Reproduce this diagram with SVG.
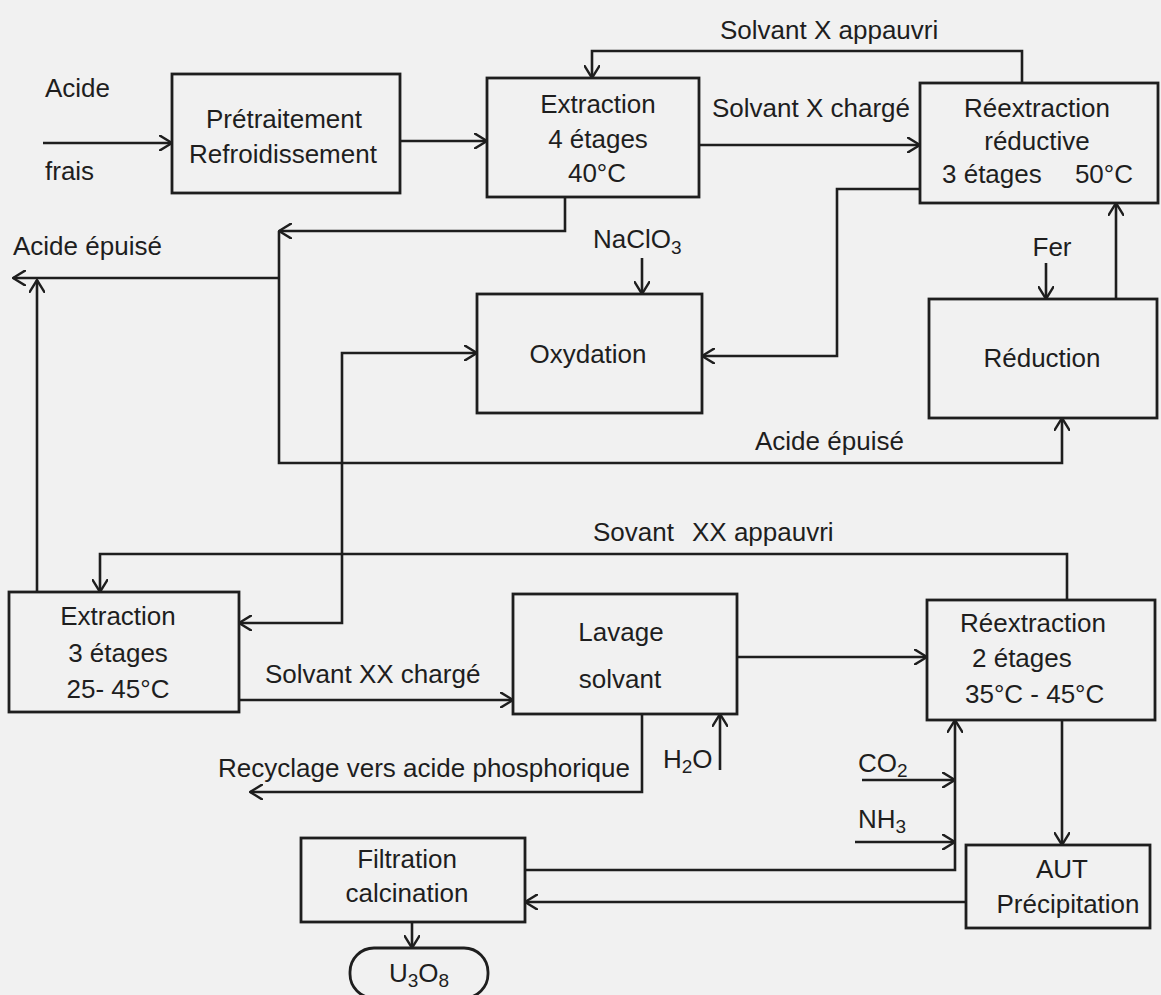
<svg xmlns="http://www.w3.org/2000/svg" width="1161" height="995" viewBox="0 0 1161 995">
<style>
text{font-family:"Liberation Sans",Arial,Helvetica,sans-serif;font-size:26px;fill:#1e1e1e}
.c{text-anchor:middle}
.e{text-anchor:end}
.box{fill:none;stroke:#1e1e1e;stroke-width:2.8}
.ln{fill:none;stroke:#1e1e1e;stroke-width:2.6}
.a{marker-end:url(#ah)}
.sub{font-size:19px}
</style>
<defs>
<marker id="ah" viewBox="0 0 14 16" refX="13" refY="8" markerWidth="14" markerHeight="16" markerUnits="userSpaceOnUse" orient="auto-start-reverse">
<path d="M0,0 L13,8 L0,16" fill="none" stroke="#1e1e1e" stroke-width="2.4"/>
</marker>
</defs>
<rect x="0" y="0" width="1161" height="995" fill="#f1f1f1"/>

<g id="connectors">
<path class="ln a" d="M43,143 H172"/>
<path class="ln a" d="M400,141 H487"/>
<path class="ln a" d="M1022,83 V51 H592 V78"/>
<path class="ln a" d="M699,145 H920"/>
<path class="ln a" d="M565,197 V231 H279"/>
<path class="ln a" d="M279,231 V463 H1062 V418"/>
<path class="ln a" d="M279,278 H13"/>
<path class="ln a" d="M37,592 V280"/>
<path class="ln a" d="M642,258 V294"/>
<path class="ln a" d="M920,189 H837 V356 H702"/>
<path class="ln a" d="M1046,263 V299"/>
<path class="ln a" d="M1116,299 V203"/>
<path class="ln a" d="M239,623 H342 V353 H477" marker-start="url(#ah)"/>
<path class="ln a" d="M1067,600 V554 H100 V592"/>
<path class="ln a" d="M239,700 H513"/>
<path class="ln a" d="M642,714 V792 H250"/>
<path class="ln a" d="M720,770 V714"/>
<path class="ln a" d="M737,657 H927"/>
<path class="ln a" d="M862,780 H955"/>
<path class="ln a" d="M855,842 H955"/>
<path class="ln a" d="M525,870 H955 V720"/>
<path class="ln a" d="M1062,720 V845"/>
<path class="ln a" d="M966,902 H525"/>
<path class="ln a" d="M412,922 V948"/>
</g>

<g id="labels">
<text x="45" y="97">Acide</text>
<text x="45" y="180">frais</text>
<text x="13" y="255">Acide épuisé</text>
<text x="720" y="39">Solvant X appauvri</text>
<text x="712" y="117">Solvant X chargé</text>
<text x="593" y="248">NaClO<tspan class="sub" dy="6">3</tspan></text>
<text x="1052" y="256" class="c">Fer</text>
<text x="755" y="450">Acide épuisé</text>
<text x="593" y="541">Sovant</text>
<text x="692" y="541">XX appauvri</text>
<text x="265" y="683">Solvant XX chargé</text>
<text x="630" y="777" class="e">Recyclage vers acide phosphorique</text>
<text x="663" y="768">H<tspan class="sub" dy="5">2</tspan><tspan dy="-5">O</tspan></text>
<text x="858" y="772">CO<tspan class="sub" dy="5">2</tspan></text>
<text x="858" y="828">NH<tspan class="sub" dy="5">3</tspan></text>
</g>

<g id="pretraitement">
<rect class="box" x="172" y="74" width="228" height="119"/>
<text x="284" y="128" class="c">Prétraitement</text>
<text x="283" y="163" class="c">Refroidissement</text>
</g>

<g id="extraction4">
<rect class="box" x="487" y="78" width="212" height="119"/>
<text x="598" y="113" class="c">Extraction</text>
<text x="598" y="148" class="c">4 étages</text>
<text x="597" y="182" class="c">40°C</text>
</g>

<g id="reextraction-reductive">
<rect class="box" x="920" y="83" width="238" height="120"/>
<text x="1037" y="117" class="c">Réextraction</text>
<text x="1037" y="150" class="c">réductive</text>
<text x="942" y="183">3 étages</text>
<text x="1133" y="183" class="e">50°C</text>
</g>

<g id="oxydation">
<rect class="box" x="477" y="294" width="225" height="119"/>
<text x="588" y="363" class="c">Oxydation</text>
</g>

<g id="reduction">
<rect class="box" x="929" y="299" width="228" height="119"/>
<text x="1042" y="367" class="c">Réduction</text>
</g>

<g id="extraction3">
<rect class="box" x="9" y="592" width="230" height="120"/>
<text x="118" y="625" class="c">Extraction</text>
<text x="118" y="662" class="c">3 étages</text>
<text x="118" y="698" class="c">25- 45°C</text>
</g>

<g id="lavage">
<rect class="box" x="513" y="594" width="224" height="120"/>
<text x="621" y="641" class="c">Lavage</text>
<text x="620" y="688" class="c">solvant</text>
</g>

<g id="reextraction2">
<rect class="box" x="927" y="600" width="228" height="120"/>
<text x="960" y="632">Réextraction</text>
<text x="972" y="667">2 étages</text>
<text x="965" y="703">35°C - 45°C</text>
</g>

<g id="aut">
<rect class="box" x="966" y="845" width="184" height="83"/>
<text x="1062" y="878" class="c">AUT</text>
<text x="1068" y="913" class="c">Précipitation</text>
</g>

<g id="filtration">
<rect class="box" x="301" y="838" width="224" height="84"/>
<text x="407" y="868" class="c">Filtration</text>
<text x="407" y="902" class="c">calcination</text>
</g>

<g id="u3o8">
<rect class="box" x="350" y="948" width="138" height="50" rx="24" ry="24"/>
<text x="419" y="982" class="c">U<tspan class="sub" dy="5">3</tspan><tspan dy="-5">O</tspan><tspan class="sub" dy="5">8</tspan></text>
</g>
</svg>
